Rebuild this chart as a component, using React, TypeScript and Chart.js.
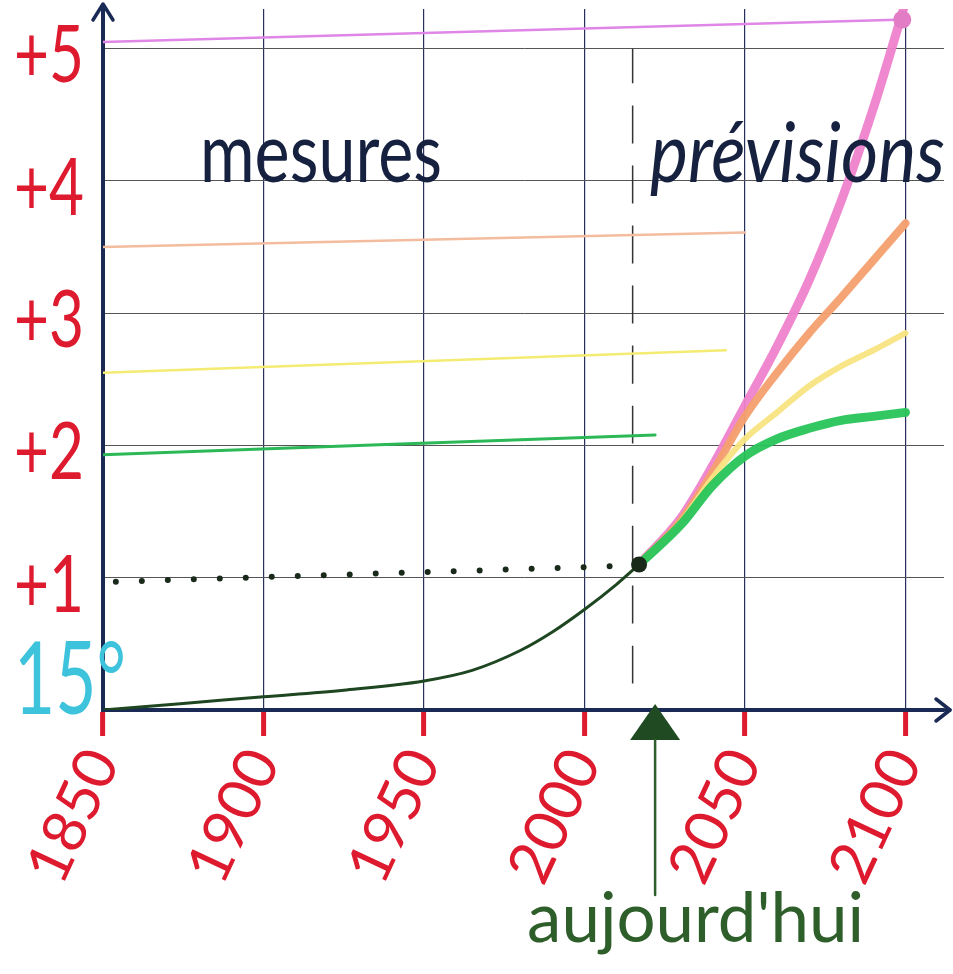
import React, { useEffect, useRef } from 'react';
import { Chart, registerables } from 'chart.js';
Chart.register(...registerables);

// ---- data ----
const xTicks = [1850, 1900, 1950, 2000, 2050, 2100];
const yTicks = [0, 1, 2, 3, 4, 5];
const yTickLabels = ['15°', '+1', '+2', '+3', '+4', '+5'];

const measuredYears = [1850, 1875, 1900, 1925, 1950, 1965, 1980, 1990, 2000, 2010, 2017];
const measuredValues = [0, 0.05, 0.1, 0.15, 0.22, 0.3, 0.45, 0.59, 0.76, 0.95, 1.1];

const projYears = [2017, 2030, 2040, 2050, 2060, 2070, 2080, 2090, 2100];
const pinkValues = [1.1, 1.45, 1.85, 2.3, 2.75, 3.25, 3.85, 4.55, 5.35];
const orangeValues = [1.1, 1.43, 1.8, 2.22, 2.55, 2.85, 3.12, 3.4, 3.68];
const yellowValues = [1.1, 1.42, 1.76, 2.05, 2.25, 2.45, 2.6, 2.72, 2.85];
const greenValues = [1.1, 1.4, 1.7, 1.92, 2.05, 2.13, 2.19, 2.22, 2.25];

const pinkRefYears = [1850, 2100];
const pinkRefValues = [5.05, 5.22];
const orangeRefYears = [1850, 2050];
const orangeRefValues = [3.5, 3.61];
const yellowRefYears = [1850, 2044];
const yellowRefValues = [2.55, 2.72];
const greenRefYears = [1850, 2022];
const greenRefValues = [1.93, 2.08];

const dottedYears = [1854, 2013];
const dottedValues = [0.97, 1.09];
const todayLineYears = [2015, 2015];
const todayLineValues = [0.2, 5.0];
const todayPointYear = [2017];
const todayPointValue = [1.1];
const pinkEndYear = [2099];
const pinkEndValue = [5.22];
const arrowYear = 2022;

const labelMesures = 'mesures';
const labelPrevisions = 'prévisions';
const labelToday = "aujourd'hui";

const pts = (xs: number[], ys: number[]) => xs.map((x, i) => ({ x, y: ys[i] }));

export default function App() {
  const ref = useRef<HTMLCanvasElement>(null);
  useEffect(() => {
    if (!ref.current) return;
    const navy = '#1b2a55';
    const red = '#de1a2e';
    const deco = {
      id: 'deco',
      afterDraw(chart: any) {
        const { ctx, chartArea, scales } = chart;
        const x = scales.x, y = scales.y;
        ctx.save();
        // y tick labels
        yTicks.forEach((v, i) => {
          const py = y.getPixelForValue(v);
          if (v === 0) {
            ctx.fillStyle = '#3ec3dc';
            ctx.font = '400 100px Lato';
            ctx.textAlign = 'left';
            ctx.textBaseline = 'alphabetic';
            ctx.fillText(yTickLabels[i], 14, py + 4, 112);
          } else {
            ctx.fillStyle = red;
            ctx.font = '400 80px Lato';
            ctx.textAlign = 'right';
            ctx.textBaseline = 'middle';
            ctx.fillText(yTickLabels[i], 84, py + 8, 70);
          }
        });
        // axis arrows
        ctx.strokeStyle = navy;
        ctx.lineWidth = 3.5;
        ctx.lineCap = 'round';
        ctx.lineJoin = 'round';
        const l = chartArea.left, b = chartArea.bottom;
        ctx.beginPath();
        ctx.moveTo(l - 10, 20);
        ctx.lineTo(l, 4);
        ctx.lineTo(l + 10, 20);
        ctx.stroke();
        ctx.beginPath();
        ctx.moveTo(chartArea.right, b);
        ctx.lineTo(950, b);
        ctx.stroke();
        ctx.beginPath();
        ctx.moveTo(936, b - 11);
        ctx.lineTo(950, b);
        ctx.lineTo(936, b + 11);
        ctx.stroke();
        // big texts
        ctx.fillStyle = '#16203f';
        ctx.textAlign = 'left';
        ctx.textBaseline = 'alphabetic';
        ctx.font = '400 84px Lato';
        ctx.fillText(labelMesures, 200, 182, 242);
        ctx.font = 'italic 400 84px Lato';
        ctx.fillText(labelPrevisions, 650, 182, 295);
        // today arrow
        const px = x.getPixelForValue(arrowYear);
        ctx.fillStyle = '#1f4a22';
        ctx.beginPath();
        ctx.moveTo(px, b - 6);
        ctx.lineTo(px - 25, b + 30);
        ctx.lineTo(px + 25, b + 30);
        ctx.closePath();
        ctx.fill();
        ctx.strokeStyle = '#2e5e2a';
        ctx.lineWidth = 2.5;
        ctx.beginPath();
        ctx.moveTo(px, b + 30);
        ctx.lineTo(px, 895);
        ctx.stroke();
        ctx.fillStyle = '#2e5e2a';
        ctx.font = '400 70px Lato';
        ctx.fillText(labelToday, px - 128, 942, 337);
        ctx.restore();
      },
    };

    const line = (data: any, color: string, width: number, extra: any = {}) => ({
      type: 'line',
      data,
      borderColor: color,
      backgroundColor: color,
      borderWidth: width,
      pointRadius: 0,
      fill: false,
      cubicInterpolationMode: 'monotone',
      borderCapStyle: 'round',
      borderJoinStyle: 'round',
      ...extra,
    });

    const chart = new Chart(ref.current, {
      type: 'line',
      data: {
        datasets: [
          line(pts(todayPointYear, todayPointValue), '#1a2a1a', 0, { pointRadius: 8, showLine: false, order: 0 }),
          line(pts(pinkEndYear, pinkEndValue), '#e27cc4', 0, { pointRadius: 9, showLine: false, order: 1 }),
          line(pts(measuredYears, measuredValues), '#1e4620', 3, { order: 2 }),
          line(pts(projYears, greenValues), 'rgba(40,196,90,0.95)', 9, { order: 3 }),
          line(pts(projYears, yellowValues), 'rgba(248,228,130,0.95)', 6, { order: 4 }),
          line(pts(projYears, orangeValues), 'rgba(244,160,110,0.95)', 8, { order: 5 }),
          line(pts(projYears, pinkValues), 'rgba(238,130,204,0.95)', 9, { order: 6 }),
          line(pts(pinkRefYears, pinkRefValues), '#df86e6', 2.5, { order: 7 }),
          line(pts(orangeRefYears, orangeRefValues), '#f3bc9e', 2.5, { order: 7 }),
          line(pts(yellowRefYears, yellowRefValues), '#f4ec72', 2.5, { order: 7 }),
          line(pts(greenRefYears, greenRefValues), '#2cb857', 3, { order: 7 }),
          line(pts(dottedYears, dottedValues), '#1a2a1a', 6, { borderDash: [0, 26], order: 8 }),
          line(pts(todayLineYears, todayLineValues), '#333333', 1.5, { borderDash: [38, 22], borderCapStyle: 'butt', order: 9 }),
        ],
      },
      options: {
        animation: false,
        responsive: false,
        maintainAspectRatio: false,
        layout: { padding: { top: 5, right: 8, left: 0, bottom: 0 } },
        plugins: { legend: { display: false }, tooltip: { enabled: false } },
        scales: {
          x: {
            type: 'linear',
            min: 1850,
            max: 2112,
            afterBuildTicks: (s: any) => { s.ticks = xTicks.map((v) => ({ value: v })); },
            afterFit: (s: any) => { s.height = 264; s.paddingLeft = 0; s.paddingRight = 0; },
            grid: { color: '#27305a', lineWidth: 1.2, tickColor: red, tickWidth: 5, tickLength: 26, drawTicks: true },
            border: { color: navy, width: 4 },
            ticks: {
              color: red,
              font: { family: 'Lato', size: 60 },
              minRotation: 65,
              maxRotation: 65,
              autoSkip: false,
              padding: 2,
              callback: (v: any) => String(v),
            },
          },
          y: {
            min: 0,
            max: 5.3,
            afterBuildTicks: (s: any) => { s.ticks = yTicks.map((v) => ({ value: v })); },
            afterFit: (s: any) => { s.width = 103; s.paddingTop = 0; s.paddingBottom = 0; },
            grid: { color: '#555555', lineWidth: 1, drawTicks: false },
            border: { color: navy, width: 4 },
            ticks: { display: false },
          },
        },
      },
      plugins: [deco],
    } as any);
    return () => chart.destroy();
  }, []);

  return (
    <div style={{ position: 'absolute', left: 0, top: 0, width: 953, height: 974, background: '#ffffff' }}>
      <canvas ref={ref} width={953} height={974} style={{ display: 'block', width: 953, height: 974 }} />
    </div>
  );
}
